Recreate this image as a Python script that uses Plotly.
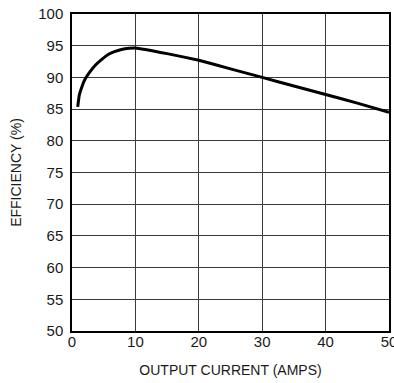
import plotly.graph_objects as go

# efficiency curve
current_amps = [0.9, 1.15, 1.55, 2.05, 2.85, 3.6, 4.7, 5.7, 6.7, 7.8, 9.0, 10.0,
                15, 20, 25, 30, 35, 40, 45, 50]
efficiency = [85.35, 87.2, 88.5, 89.7, 90.9, 91.85, 92.85, 93.6, 94.05, 94.4, 94.6, 94.65,
              93.75, 92.7, 91.35, 90.0, 88.65, 87.3, 85.95, 84.5]

x_ticks = [0, 10, 20, 30, 40, 50]
y_ticks = [50, 55, 60, 65, 70, 75, 80, 85, 90, 95, 100]

font_family = "Liberation Sans, Arial, sans-serif"

fig = go.Figure()
fig.add_trace(go.Scatter(
    x=current_amps, y=efficiency, mode='lines',
    line=dict(color='black', width=3, shape='spline', smoothing=0.3),
    showlegend=False, hoverinfo='skip'
))

fig.update_layout(
    width=394, height=383,
    margin=dict(l=72, r=5, t=14, b=52),
    paper_bgcolor='white', plot_bgcolor='white',
    font=dict(family=font_family, color='#1a1a1a', size=15),
    xaxis=dict(
        range=[0, 50], tickvals=x_ticks, showgrid=True, gridcolor='#3a3a3a', gridwidth=1,
        showline=True, linecolor='black', linewidth=1.5, mirror=True, zeroline=False,
        ticks='', tickfont=dict(size=15), ticklabeloverflow='allow', automargin=False,
        ticklabelstandoff=-4,
        title=dict(text='OUTPUT CURRENT (AMPS)', font=dict(size=14), standoff=16)
    ),
    yaxis=dict(
        range=[50, 100], tickvals=y_ticks, showgrid=True, gridcolor='#3a3a3a', gridwidth=1,
        showline=True, linecolor='black', linewidth=1.5, mirror=True, zeroline=False,
        ticks='', tickfont=dict(size=15), ticklabelstandoff=4, automargin=False,
        ticklabeloverflow='allow',
        title=dict(text='EFFICIENCY (%)', font=dict(size=14), standoff=13)
    ),
)

# drop the default 8px body margin so the figure sits flush in the window
fig.write_html("out.html", config={'displayModeBar': False},
               post_script="document.body.style.margin='0';")
